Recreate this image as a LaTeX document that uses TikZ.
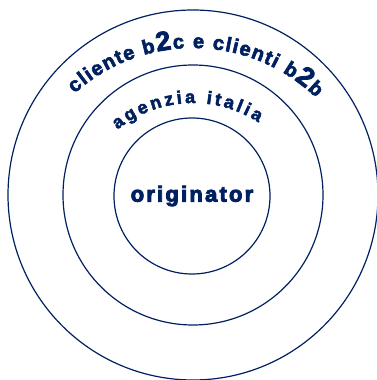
\documentclass[tikz,border=0pt]{standalone}
\usepackage{fontspec}
\setmainfont{Liberation Sans}
\newfontfamily\heavyfont[LetterSpace=10, BoldFeatures={FakeBold=4}]{Liberation Sans}
\newfontfamily\arcfont[BoldFeatures={FakeBold=3}]{Liberation Sans}
\usepackage{tikz}
\usetikzlibrary{decorations.text}

\definecolor{navy}{RGB}{0,32,96}
\newcommand{\ringfont}{\arcfont\fontsize{20}{20}\selectfont\bfseries}
\newcommand{\bigtwo}{\arcfont\fontsize{27}{27}\selectfont\bfseries}
\newcommand{\agfont}{\arcfont\fontsize{18}{18}\selectfont\bfseries}

\begin{document}
\begin{tikzpicture}[x=1pt, y=1pt,
    ring/.style={draw=navy, line width=1.2pt, circle, inner sep=0pt},
    arctext/.style={decorate, decoration={text along path, text align={fit to path}, text color=navy, text={#1}}}]
    \useasboundingbox (-193,-185) rectangle (184,195);

    \node[ring, minimum size=370] (clienti) at (0,0) {};
    \node[ring, minimum size=260] (agenzia) at (0,0) {};
    \node[ring, minimum size=156, text=navy, font=\heavyfont\bfseries\fontsize{22}{22}\selectfont] (originator) at (-1,-1) {originator};

    \path[arctext={|\ringfont|cliente b|\bigtwo|2|\ringfont|c e clienti b|\bigtwo|2|\ringfont|b}] ([shift={(132:177)}]0,-30) arc[start angle=132, end angle=46, radius=177];
    \path[arctext={|\agfont|agenzia italia}] ([shift={(129:120)}]0,-28) arc[start angle=129, end angle=57, radius=120];
\end{tikzpicture}
\end{document}
